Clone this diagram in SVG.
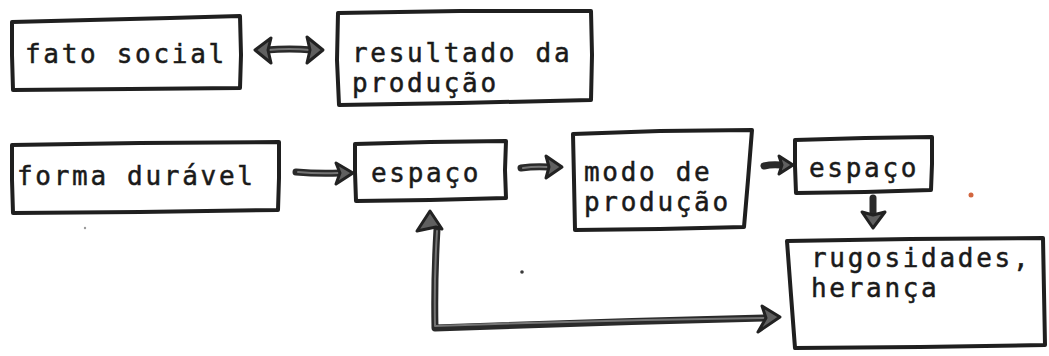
<svg xmlns="http://www.w3.org/2000/svg" width="1049" height="356" viewBox="0 0 1049 356">
  <defs>
    <style>
      .box { fill: #ffffff; stroke: #1f1f1f; stroke-width: 4; stroke-linejoin: round; }
      .lbl { font-family: "DejaVu Sans Mono", "Liberation Mono", monospace; font-size: 26px; letter-spacing: 2.7px; fill: #1a1a1a; stroke: #1a1a1a; stroke-width: 0.5; }
      .shaft { fill: none; stroke: #2a2a2a; stroke-width: 7; stroke-linecap: round; stroke-linejoin: round; }
      .shaft-in { fill: none; stroke: #747474; stroke-width: 2; stroke-linecap: round; stroke-linejoin: round; }
      .head { fill: #606060; stroke: #222222; stroke-width: 3; stroke-linejoin: round; }
    </style>
  </defs>
  <rect x="0" y="0" width="1049" height="356" fill="#ffffff"/>

  <g id="connectors">
    <g id="c-fato-resultado">
      <path class="shaft" d="M266,50 Q290,48 312,50"/>
      <path class="shaft-in" d="M268,50 Q290,48 310,50"/>
      <polygon class="head" points="255,50 271,38 268,50 271,63"/>
      <polygon class="head" points="323,50 307,37 310,50 307,63"/>
    </g>
    <g id="c-forma-espaco">
      <path class="shaft" d="M296,172 Q318,174 340,173"/>
      <path class="shaft-in" d="M298,172 Q318,174 338,173"/>
      <polygon class="head" points="353,173 336,163 340,173 336,184"/>
    </g>
    <g id="c-espaco-modo">
      <path class="shaft" d="M521,168 Q535,166 549,167"/>
      <path class="shaft-in" d="M523,168 Q535,166 547,167"/>
      <polygon class="head" points="562,167 546,156 549,167 546,178"/>
    </g>
    <g id="c-modo-espaco2">
      <path class="shaft" d="M764,166 Q772,164 781,165"/>
      <polygon class="head" points="793,165 779,156 782,165 779,174"/>
    </g>
    <g id="c-espaco2-rugosidades">
      <path class="shaft" d="M873,198 L873,214"/>
      <polygon class="head" points="873,228 862,212 873,215 885,212"/>
    </g>
    <g id="c-rugosidades-espaco">
      <path class="shaft" d="M437,229 Q434,280 435,328 Q600,322 766,318"/>
      <path class="shaft-in" d="M437,231 Q434,280 435,326 Q600,320 764,318"/>
      <polygon class="head" points="430,211 417,231 436,227 442,229"/>
      <polygon class="head" points="780,317 762,306 766,318 758,332"/>
    </g>
  </g>

  <g id="n-fato-social">
    <path class="box" d="M12,22 L90,20 L170,18 L240,16 L241,55 L240,88 L130,89 L13,90 L12,55 Z"/>
    <text class="lbl" x="25" y="63">fato social</text>
  </g>

  <g id="n-resultado">
    <path class="box" d="M338,13 L460,11 L591,11 L592,55 L591,100 L460,103 L339,105 L337,60 Z"/>
    <text class="lbl" x="352" y="62">resultado da</text>
    <text class="lbl" x="352" y="92">produção</text>
  </g>

  <g id="n-forma-duravel">
    <path class="box" d="M12,145 L140,143 L279,142 L279,178 L278,210 L140,212 L13,213 L12,180 Z"/>
    <text class="lbl" x="17" y="185">forma durável</text>
  </g>

  <g id="n-espaco-1">
    <path class="box" d="M355,144 L430,142 L506,141 L505,170 L506,198 L430,200 L356,201 L355,172 Z"/>
    <text class="lbl" x="371" y="182">espaço</text>
  </g>

  <g id="n-modo-producao">
    <path class="box" d="M573,134 L660,131 L752,130 L748,180 L744,227 L660,229 L575,230 L574,180 Z"/>
    <text class="lbl" x="584" y="181">modo de</text>
    <text class="lbl" x="584" y="211">produção</text>
  </g>

  <g id="n-espaco-2">
    <path class="box" d="M795,140 L865,138 L932,137 L932,164 L931,190 L865,192 L796,193 L795,166 Z"/>
    <text class="lbl" x="809" y="177">espaço</text>
  </g>

  <g id="n-rugosidades">
    <path class="box" d="M787,241 L910,239 L1043,238 L1044,292 L1045,345 L920,347 L795,348 L791,295 Z"/>
    <text class="lbl" x="811" y="267">rugosidades,</text>
    <text class="lbl" x="811" y="297">herança</text>
  </g>

  <circle cx="522" cy="272" r="1.8" fill="#3a3a3a"/>
  <circle cx="971" cy="195" r="2.5" fill="#d2663f"/>
  <circle cx="85" cy="228" r="1.2" fill="#9a9a9a"/>
</svg>
